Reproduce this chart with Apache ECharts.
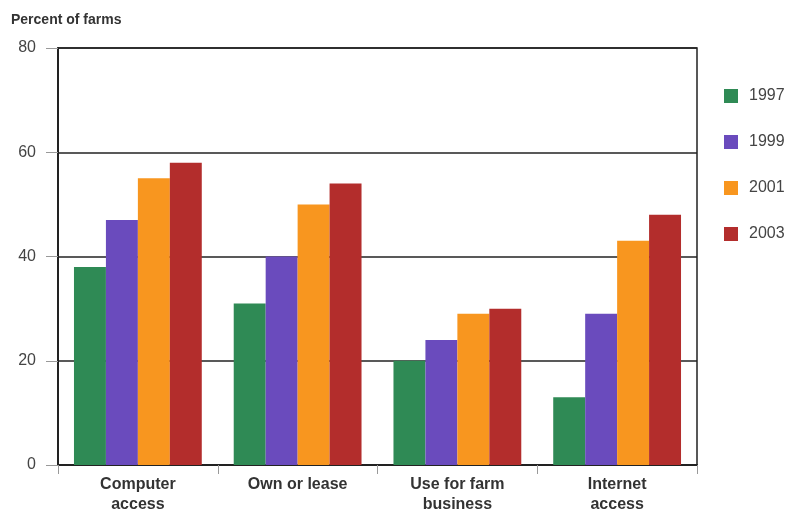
<!DOCTYPE html>
<html>
<head>
<meta charset="utf-8">
<script src="https://cdn.jsdelivr.net/npm/echarts@6/dist/echarts.min.js"></script>
<style>
  html, body { margin: 0; padding: 0; background: #fff; }
  #chart { width: 802px; height: 510px; }
</style>
</head>
<body>
<div id="chart"></div>
<script>
var categories = ["Computer\naccess", "Own or lease", "Use for farm\nbusiness", "Internet\naccess"];
var years = ["1997", "1999", "2001", "2003"];
var values1997 = [38, 31, 20, 13];
var values1999 = [47, 40, 24, 29];
var values2001 = [55, 50, 29, 43];
var values2003 = [58, 54, 30, 48];
var yTicks = [0, 20, 40, 60, 80];

var colors = ["#2f8a55", "#6a4bbd", "#f8961f", "#b32d2c"];
var seriesData = [values1997, values1999, values2001, values2003];

var chart = echarts.init(document.getElementById("chart"));

var series = [];
for (var i = 0; i < years.length; i++) {
    series.push({
        name: years[i],
        type: "bar",
        data: seriesData[i],
        barGap: "0%",
        barCategoryGap: "20%",
        itemStyle: { color: colors[i] }
    });
}

var option = {
    animation: false,
    textStyle: { fontFamily: "Liberation Sans, Arial, sans-serif" },
    graphic: [{
        type: "text",
        left: 11,
        top: 13,
        style: {
            text: "Percent of farms",
            font: "bold 14px Liberation Sans, Arial, sans-serif",
            fill: "#333"
        }
    }],
    legend: {
        orient: "vertical",
        left: 719,
        top: 83,
        itemWidth: 14,
        itemHeight: 14,
        itemGap: 30,
        icon: "rect",
        textStyle: { fontSize: 16, color: "#444", padding: [0, 0, 0, 6] },
        data: years
    },
    grid: {
        left: 58,
        right: 105,
        top: 48,
        bottom: 45,
        show: true,
        borderColor: "#222",
        borderWidth: 1.5,
        containLabel: false,
        outerBoundsMode: "none"
    },
    xAxis: {
        type: "category",
        data: categories,
        axisLine: { lineStyle: { color: "#222", width: 2 } },
        axisTick: { show: true, alignWithLabel: false, length: 9, lineStyle: { color: "#999" } },
        axisLabel: {
            fontSize: 16,
            fontWeight: "bold",
            color: "#333",
            margin: 10,
            lineHeight: 20,
            interval: 0
        }
    },
    yAxis: {
        type: "value",
        min: yTicks[0],
        max: yTicks[yTicks.length - 1],
        interval: 20,
        axisLine: { show: true, lineStyle: { color: "#222", width: 2 } },
        axisTick: { show: true, length: 12, lineStyle: { color: "#999" } },
        splitLine: { show: true, lineStyle: { color: "#222", width: 1.5 } },
        axisLabel: { fontSize: 16, color: "#444", margin: 22 }
    },
    series: series
};

chart.setOption(option);
</script>
</body>
</html>
